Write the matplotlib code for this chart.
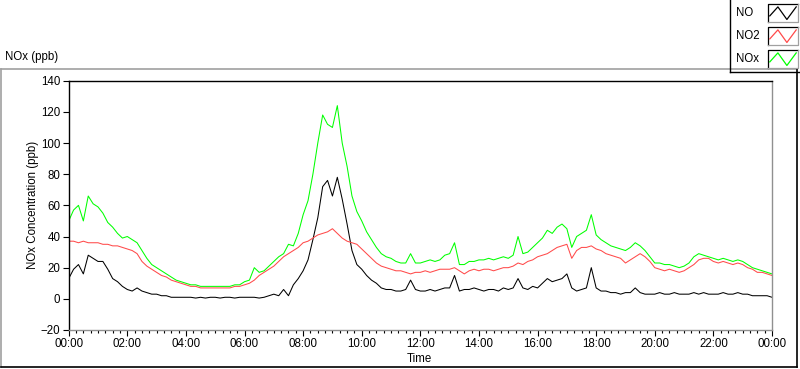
import numpy as np
import matplotlib
matplotlib.use('Agg')
from matplotlib import pyplot as plt
from matplotlib.lines import Line2D
from matplotlib.patches import Rectangle

plt.rcParams['font.family'] = ['Liberation Sans', 'DejaVu Sans']

# readings every 10 minutes, 00:00 .. 24:00
no = [13, 19, 22, 16, 28, 26,  24, 24, 19, 13, 11, 8,  6, 5, 7, 5, 4, 3,
      3, 2, 2, 1, 1, 1,  1, 1, 0.5, 1, 0.5, 1,  1, 0.5, 1, 1, 0.5, 1,
      1, 1, 1, 0.5, 1, 2,  3, 2, 6, 2, 9, 13,  18, 25, 38, 52, 72, 76,
      66, 78, 64, 48, 31, 22,  19, 15, 12, 10, 7, 6,  6, 5, 5, 6, 12, 6,
      5, 5, 6, 5, 6, 7,  7, 15, 5, 6, 6, 7,  6, 5, 6, 6, 5, 7,
      6, 7, 13, 7, 6, 8,  7, 10, 13, 11, 12, 13,  16, 7, 5, 6, 7, 20,
      7, 5, 5, 4, 4, 3,  4, 4, 7, 4, 3, 3,  3, 4, 3, 3, 4, 3,
      3, 3, 4, 3, 4, 3,  3, 3, 4, 3, 3, 4,  3, 3, 2, 2, 2, 2,  1]
no2 = [37, 37, 36, 37, 36, 36,  36, 35, 35, 34, 34, 33,  32, 31, 29, 24, 21, 19,
       17, 15, 14, 12, 11, 10,  9, 8, 8, 7, 7, 7,  7, 7, 7, 7, 8, 8,
       9, 10, 12, 15, 17, 19,  21, 24, 27, 29, 31, 33,  36, 37, 39, 41, 42, 43,
       45, 42, 39, 37, 36, 35,  32, 29, 26, 23, 21, 20,  19, 18, 18, 17, 16, 17,
       17, 18, 17, 18, 19, 19,  19, 20, 18, 16, 18, 19,  18, 19, 19, 18, 19, 20,
       20, 21, 23, 22, 24, 25,  27, 28, 29, 31, 33, 34,  35, 26, 31, 33, 33, 34,
       32, 31, 29, 28, 27, 26,  23, 25, 27, 29, 27, 24,  20, 19, 18, 19, 18, 17,
       18, 20, 22, 25, 26, 26,  24, 23, 24, 23, 22, 23,  22, 20, 19, 17, 17, 16,  15]
nox = [50, 57, 60, 50, 66, 61,  59, 55, 49, 46, 42, 39,  40, 38, 36, 31, 26, 22,
       20, 18, 16, 14, 12, 11,  10, 9, 9, 8, 8, 8,  8, 8, 8, 8, 9, 9,
       11, 12, 20, 17, 18, 21,  24, 27, 29, 35, 34, 42,  54, 63, 80, 100, 118, 112,
       110, 124, 100, 85, 66, 56,  50, 43, 38, 33, 29, 27,  26, 24, 23, 23, 29, 23,
       23, 24, 25, 24, 25, 28,  29, 36, 22, 22, 24, 24,  25, 25, 26, 25, 26, 27,
       26, 28, 40, 29, 30, 33,  36, 39, 44, 42, 46, 48,  45, 33, 40, 42, 44, 54,
       41, 38, 36, 34, 33, 32,  31, 33, 36, 34, 31, 27,  23, 23, 22, 22, 21, 20,
       21, 23, 27, 29, 28, 27,  26, 25, 26, 25, 24, 25,  24, 22, 20, 19, 18, 17,  16]
hours = np.arange(len(no)) / 6.0

series = [('NO', no, 'black'), ('NO2', no2, '#ff4a4a'), ('NOx', nox, '#00ff00')]
tick_labels = ['%02d:00' % (h % 24) for h in range(0, 25, 2)]

W, H = 800, 369
fig = plt.figure(figsize=(8, 3.69), dpi=100)

def fx(px):
    return px / float(W)

def fy(py):
    return 1 - py / float(H)

# outer panel frame (sunken look)
fig.add_artist(Line2D([fx(1), fx(797)], [fy(69), fy(69)], color='#a0a0a0', lw=1.2))
fig.add_artist(Line2D([fx(1), fx(1)], [fy(69), fy(367)], color='#a0a0a0', lw=1.2))
fig.add_artist(Line2D([fx(1), fx(797)], [fy(367), fy(367)], color='black', lw=1.2))
fig.add_artist(Line2D([fx(797), fx(797)], [fy(69), fy(367)], color='black', lw=1.2))

ax = fig.add_axes([fx(68.7), fy(330), fx(772) - fx(68.7), fy(80.7) - fy(330)])
for name, vals, col in series:
    ax.plot(hours, vals, color=col, lw=0.75)

ax.set_xlim(0, 24)
ax.set_ylim(-20, 140)
ax.set_xticks(range(0, 25, 2))
ax.set_xticklabels(tick_labels)
ax.set_xticks(np.arange(0, 24.01, 0.25), minor=True)
ax.set_yticks(range(-20, 141, 20))
ax.tick_params(axis='both', which='major', labelsize=8.3, length=4, width=0.8, pad=2)
ax.tick_params(axis='x', which='minor', length=2.2, width=0.8)
ax.spines['top'].set_color('black')
ax.spines['left'].set_color('black')
ax.spines['bottom'].set_color('#909090')
ax.spines['right'].set_color('#909090')
for s in ax.spines.values():
    s.set_linewidth(1)

fig.text(fx(5), fy(57), 'NOx (ppb)', fontsize=8.3, va='center', ha='left')
fig.text(fx(419), fy(359), 'Time', fontsize=8.3, va='center', ha='center')
fig.text(fx(33), fy(205), 'NOx Concentration (ppb)', fontsize=8.3, va='center',
         ha='center', rotation=90)

# legend box drawn by hand
fig.add_artist(Line2D([fx(730), fx(730)], [fy(0), fy(72)], color='black', lw=1))
fig.add_artist(Line2D([fx(730), fx(800)], [fy(72), fy(72)], color='black', lw=1))
zx = [0.06, 0.33, 0.63, 0.94]
zy = [0.34, 0.84, 0.14, 0.84]
for i, (name, vals, col) in enumerate(series):
    top = 4 + 23 * i
    fig.text(fx(736), fy(top + 9), name, fontsize=8.3, va='center', ha='left')
    x0, x1, y0, y1 = 768, 798, top, top + 18
    fig.add_artist(Rectangle((fx(x0), fy(y1)), fx(x1) - fx(x0), fy(y0) - fy(y1),
                             facecolor='white', edgecolor='none'))
    fig.add_artist(Line2D([fx(x0), fx(x0), fx(x1)], [fy(y1), fy(y0), fy(y0)],
                          color='black', lw=0.9))
    fig.add_artist(Line2D([fx(x0), fx(x1), fx(x1)], [fy(y1), fy(y1), fy(y0)],
                          color='#a0a0a0', lw=0.9))
    fig.add_artist(Line2D([fx(x0 + (x1 - x0) * a) for a in zx],
                          [fy(y1 - (y1 - y0) * b) for b in zy], color=col, lw=0.9))

fig.savefig('out.png', dpi=100)
